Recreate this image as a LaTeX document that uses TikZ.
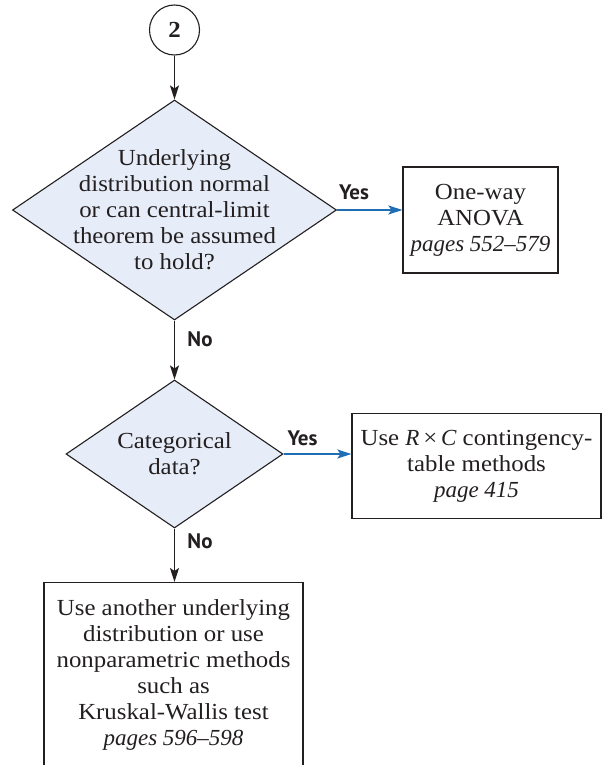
\documentclass[tikz,border=0pt]{standalone}
\usepackage{fontspec}
\setmainfont[FakeStretch=1.08]{Liberation Serif}
\newfontfamily\itpages{Liberation Serif}
\newcommand{\pg}[1]{{\itpages\itshape #1}}
\newfontfamily\lblfont{PT Sans}
\usetikzlibrary{shapes.geometric,arrows.meta}
\definecolor{dfill}{HTML}{E6EDF8}
\definecolor{yesblue}{HTML}{1F6DB5}
\definecolor{ink}{HTML}{231F20}
\begin{document}
\begin{tikzpicture}[x=1pt,y=-1pt,
  dia/.style={diamond, draw=ink, fill=dfill, line width=1.1pt, inner sep=0pt},
  box/.style={draw=ink, line width=1.2pt, inner sep=0pt, align=center},
  txt/.style={font=\fontsize{23}{26}\selectfont, text=ink, align=center},
  lbl/.style={font=\lblfont\bfseries\fontsize{21}{24}\selectfont, text=ink},
  arr/.style={draw=ink, line width=1.6pt, -{Stealth[length=14pt,width=9pt,inset=3pt]}},
  yesarr/.style={draw=yesblue, line width=2pt, -{Stealth[length=14pt,width=9pt,inset=3pt]}}]
\useasboundingbox (0,0) rectangle (602,765);
\node[circle, draw=ink, line width=1.1pt, minimum size=50pt, inner sep=0pt, text=ink, font=\bfseries\fontsize{23}{26}\selectfont] (start) at (174.5,30) {2};
\node[dia, minimum width=324pt, minimum height=220pt] (d1) at (174.5,210) {};
\node[txt] (d1t) at (174.5,210) {Underlying\\distribution normal\\or can central-limit\\theorem be assumed\\to hold?};
\node[box, txt, minimum width=155pt, minimum height=106pt] (b1) at (480.5,220) {One-way\\ANOVA\\\pg{pages 552–579}};
\node[dia, minimum width=217pt, minimum height=148pt] (d2) at (174.5,454) {};
\node[txt] (d2t) at (174.5,454) {Categorical\\data?};
\node[box, txt, minimum width=249pt, minimum height=105pt] (b2) at (476.5,466) {Use \pg{R}\,×\,\pg{C} contingency-\\table methods\\\pg{page 415}};
\node[box, minimum width=259pt, minimum height=220pt, anchor=north] (b3) at (173.5,582) {};
\node[txt] (b3t) at (173.5,675) {Use another underlying\\distribution or use\\nonparametric methods\\such as\\Kruskal-Wallis test\\\pg{pages 596–598}};
\draw[arr] (start.south) -- (d1.north);
\draw[yesarr] (d1.east) -- (d1.east -| b1.west);
\node[lbl, anchor=base] (yes1) at (354,199) {Yes};
\draw[arr] (d1.south) -- (d2.north);
\node[lbl, anchor=base] (no1) at (200,346) {No};
\draw[yesarr] (d2.east) -- (d2.east -| b2.west);
\node[lbl, anchor=base] (yes2) at (302.5,445) {Yes};
\draw[arr] (d2.south) -- (d2.south |- b3.north);
\node[lbl, anchor=base] (no2) at (200,548) {No};
\end{tikzpicture}
\end{document}
